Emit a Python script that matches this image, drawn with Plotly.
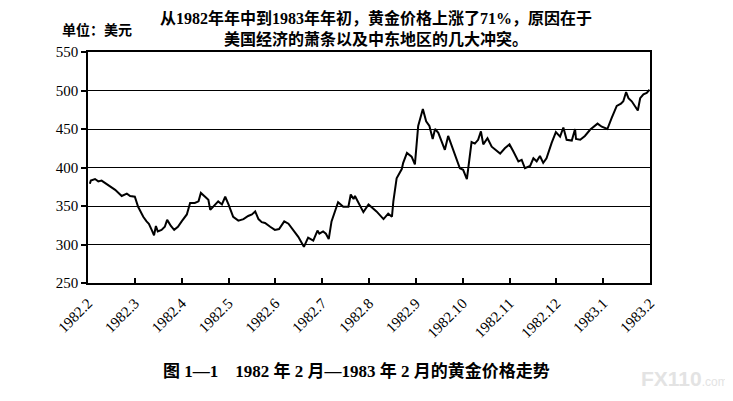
import plotly.graph_objects as go

# month offset from 1982.2 (0 = Feb 1982, 12 = Feb 1983)
month_pos = [0.04, 0.06, 0.15, 0.22, 0.29, 0.36, 0.47, 0.58, 0.72, 0.83, 0.90, 1.00, 1.07, 1.18, 1.25, 1.30,
             1.36, 1.41, 1.45, 1.49, 1.57, 1.64, 1.69, 1.77, 1.84, 1.92, 2.00, 2.11, 2.18, 2.28, 2.36, 2.41,
             2.50, 2.57, 2.61, 2.68, 2.78, 2.86, 2.93, 3.00, 3.10, 3.21, 3.32, 3.42, 3.50, 3.57, 3.64, 3.71,
             3.78, 3.89, 3.99, 4.08, 4.19, 4.28, 4.38, 4.49, 4.61, 4.70, 4.81, 4.90, 4.94, 5.02, 5.08, 5.14,
             5.20, 5.27, 5.34, 5.45, 5.56, 5.61, 5.67, 5.70, 5.77, 5.88, 5.99, 6.09, 6.16, 6.31, 6.41, 6.49,
             6.52, 6.59, 6.70, 6.73, 6.81, 6.91, 6.98, 7.05, 7.15, 7.22, 7.29, 7.36, 7.41, 7.48, 7.55, 7.62,
             7.69, 7.77, 7.86, 7.94, 8.01, 8.09, 8.19, 8.26, 8.33, 8.39, 8.44, 8.53, 8.62, 8.73, 8.80, 8.90,
             9.00, 9.08, 9.19, 9.26, 9.33, 9.44, 9.51, 9.58, 9.65, 9.72, 9.79, 9.90, 9.99, 10.08, 10.15, 10.22,
             10.33, 10.40, 10.42, 10.51, 10.61, 10.72, 10.79, 10.88, 10.97, 11.09, 11.18, 11.29, 11.38, 11.43,
             11.49, 11.54, 11.61, 11.68, 11.74, 11.79, 11.86, 11.93, 11.99]
gold_price = [379, 383, 385, 382, 383, 380, 376, 371, 363, 366, 363, 362, 349, 336, 330, 327,
              319, 312, 324, 317, 319, 323, 332, 324, 319, 323, 330, 339, 354, 354, 356, 367,
              362, 358, 345, 349, 356, 352, 362, 352, 336, 331, 333, 337, 339, 343, 333, 329,
              328, 323, 319, 320, 330, 327, 319, 310, 297, 309, 305, 318, 314, 317, 314, 307,
              330, 343, 355, 349, 349, 365, 359, 363, 355, 342, 352, 347, 343, 333, 340, 336,
              356, 386, 398, 406, 419, 414, 404, 454, 476, 460, 454, 437, 450, 445, 434, 423,
              441, 427, 412, 399, 397, 385, 433, 431, 436, 447, 430, 438, 427, 421, 418, 425,
              430, 421, 408, 410, 399, 402, 412, 408, 415, 406, 412, 432, 446, 440, 452, 436,
              435, 450, 437, 436, 441, 449, 452, 457, 453, 450, 464, 480, 483, 486,
              498, 490, 486, 480, 474, 490, 495, 497, 501]

tick_vals = list(range(13))
tick_labels = ["1982.2", "1982.3", "1982.4", "1982.5", "1982.6", "1982.7", "1982.8",
               "1982.9", "1982.10", "1982.11", "1982.12", "1983.1", "1983.2"]
y_ticks = [250, 300, 350, 400, 450, 500, 550]

title_text = "从1982年年中到1983年年初，黄金价格上涨了71%，原因在于<br>美国经济的萧条以及中东地区的几大冲突。"
unit_text = "单位：美元"
caption_text = "图 1—1　1982 年 2 月—1983 年 2 月的黄金价格走势"

FONT = "Liberation Serif, Noto Sans CJK SC, serif"

fig = go.Figure()
fig.add_trace(go.Scatter(x=month_pos, y=gold_price, mode="lines",
                         line=dict(color="black", width=2), showlegend=False))

fig.update_layout(
    width=725, height=393,
    margin=dict(l=80, r=83, t=44, b=118, autoexpand=False),
    paper_bgcolor="white", plot_bgcolor="white",
    font=dict(family=FONT, color="black"),
    xaxis=dict(range=[0, 12], tickmode="array", tickvals=tick_vals, ticktext=tick_labels,
               tickangle=-45, ticks="inside", ticklen=5, tickcolor="black", tickwidth=1.5,
               ticklabelstandoff=4,
               showgrid=False, zeroline=False, showline=True, linecolor="black", linewidth=1.5,
               mirror=True, tickfont=dict(size=15, family=FONT)),
    yaxis=dict(range=[250, 550], tickmode="array", tickvals=y_ticks,
               ticks="outside", ticklen=5, tickcolor="black", tickwidth=1.5,
               showgrid=True, gridcolor="black", gridwidth=1, zeroline=False,
               showline=True, linecolor="black", linewidth=1.5, mirror=True,
               tickfont=dict(size=15, family=FONT)),
    annotations=[
        dict(text="<b>" + title_text + "</b>", xref="paper", yref="paper", x=0.512, y=1.0,
             xanchor="center", yanchor="bottom", yshift=2, showarrow=False, align="center",
             font=dict(size=16, family=FONT)),
        dict(text="<b>" + unit_text + "</b>", xref="paper", yref="paper", x=-0.05, y=1.0,
             xanchor="left", yanchor="bottom", yshift=12, showarrow=False,
             font=dict(size=14, family=FONT)),
        dict(text="<b>" + caption_text + "</b>", xref="paper", yref="paper", x=0.477, y=0,
             xanchor="center", yanchor="middle", yshift=-88, showarrow=False,
             font=dict(size=17, family=FONT)),
        dict(text="<b>FX110</b><span style='font-size:12px'>.com</span>", xref="paper", yref="paper",
             x=1.142, y=0, xanchor="right", yanchor="middle", yshift=-95, showarrow=False,
             font=dict(size=21, family="Liberation Sans, sans-serif", color="#e3e3e3")),
    ],
)

fig.write_html("out.html")
